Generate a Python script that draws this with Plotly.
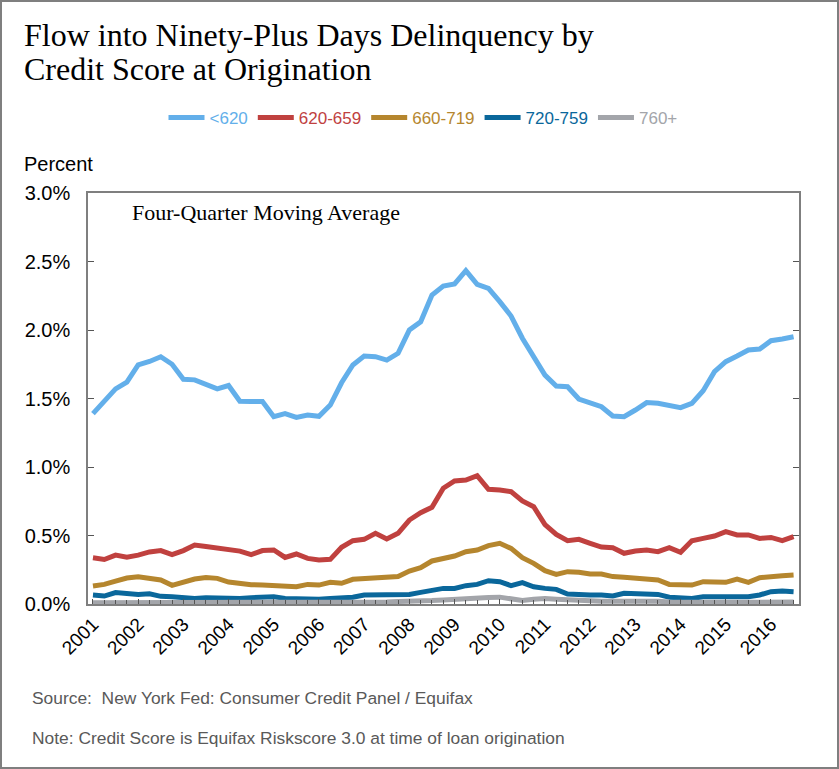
import plotly.graph_objects as go

# quarterly, 2001Q1 .. 2016Q3, four-quarter moving average (percent)
quarters = [2001 + i / 4 for i in range(63)]

below_620 = [1.39, 1.48, 1.57, 1.62, 1.745, 1.77, 1.805, 1.75, 1.64, 1.636, 1.607, 1.57, 1.595, 1.48, 1.478, 1.478,
             1.367, 1.39, 1.362, 1.38, 1.37, 1.452, 1.615, 1.745, 1.81, 1.805, 1.78, 1.83, 2.0, 2.06, 2.255, 2.32,
             2.336, 2.433, 2.333, 2.304, 2.207, 2.102, 1.94, 1.805, 1.671, 1.591, 1.586, 1.496, 1.464, 1.44, 1.372, 1.367,
             1.416, 1.47, 1.465, 1.448, 1.433, 1.465, 1.557, 1.696, 1.769, 1.81, 1.854, 1.861, 1.922, 1.934, 1.951]
s620_659 = [0.337, 0.325, 0.357, 0.342, 0.357, 0.38, 0.39, 0.36, 0.39, 0.43, 0.42, 0.41, 0.393, 0.386, 0.36, 0.39,
            0.394, 0.34, 0.365, 0.333, 0.321, 0.326, 0.414, 0.462, 0.472, 0.516, 0.474, 0.516, 0.613, 0.667, 0.706, 0.845,
            0.898, 0.905, 0.937, 0.837, 0.832, 0.82, 0.752, 0.71, 0.58, 0.508, 0.462, 0.472, 0.443, 0.416, 0.411, 0.37,
            0.387, 0.394, 0.382, 0.411, 0.377, 0.462, 0.479, 0.496, 0.528, 0.504, 0.504, 0.479, 0.486, 0.462, 0.491]
s660_719 = [0.131, 0.143, 0.167, 0.19, 0.199, 0.19, 0.175, 0.136, 0.163, 0.182, 0.194, 0.187, 0.16, 0.146, 0.141, 0.138,
            0.134, 0.126, 0.126, 0.143, 0.138, 0.158, 0.151, 0.18, 0.187, 0.187, 0.195, 0.2, 0.241, 0.265, 0.314, 0.333,
            0.35, 0.382, 0.394, 0.426, 0.443, 0.406, 0.338, 0.297, 0.243, 0.216, 0.236, 0.231, 0.219, 0.219, 0.2, 0.195,
            0.187, 0.175, 0.175, 0.143, 0.143, 0.138, 0.163, 0.163, 0.158, 0.182, 0.158, 0.192, 0.204, 0.207, 0.212]
s720_759 = [0.065, 0.058, 0.083, 0.075, 0.07, 0.075, 0.056, 0.053, 0.046, 0.041, 0.046, 0.044, 0.039, 0.041, 0.046, 0.053,
            0.053, 0.041, 0.036, 0.034, 0.034, 0.041, 0.041, 0.049, 0.066, 0.066, 0.066, 0.073, 0.07, 0.085, 0.097, 0.114,
            0.114, 0.134, 0.143, 0.17, 0.163, 0.134, 0.156, 0.126, 0.114, 0.107, 0.073, 0.066, 0.066, 0.066, 0.058, 0.078,
            0.078, 0.073, 0.07, 0.049, 0.046, 0.041, 0.053, 0.053, 0.049, 0.049, 0.053, 0.066, 0.09, 0.095, 0.09]
s760_plus = [0.01, 0.01, 0.012, 0.012, 0.012, 0.012, 0.01, 0.008, 0.008, 0.008, 0.008, 0.008, 0.008, 0.008, 0.008, 0.01,
             0.01, 0.008, 0.008, 0.008, 0.008, 0.01, 0.01, 0.012, 0.015, 0.015, 0.015, 0.018, 0.018, 0.022, 0.025, 0.03,
             0.035, 0.045, 0.048, 0.048, 0.05, 0.035, 0.025, 0.035, 0.04, 0.035, 0.03, 0.025, 0.02, 0.02, 0.02, 0.02,
             0.025, 0.025, 0.02, 0.015, 0.012, 0.012, 0.012, 0.012, 0.012, 0.012, 0.012, 0.015, 0.015, 0.015, 0.015]

series_names = ["&lt;620", "620-659", "660-719", "720-759", "760+"]
series_values = [below_620, s620_659, s660_719, s720_759, s760_plus]
colors = ["#63AFEA", "#C0413F", "#B5862E", "#0A679B", "#A3A5AA"]

year_ticks = list(range(2001, 2017))
year_labels = [str(y) for y in year_ticks]
y_ticks = [0, 0.5, 1.0, 1.5, 2.0, 2.5, 3.0]
y_labels = ["%.1f%%" % v for v in y_ticks]

W, H = 839, 769
L, R, T, B = 88, 799, 193, 604  # plot area in pixels


def px(x):
    return (x - L) / (R - L)


def py(y):
    return (B - y) / (B - T)


fig = go.Figure()
for name, vals, col in zip(series_names, series_values, colors):
    fig.add_trace(go.Scatter(x=quarters, y=vals, mode="lines",
                             name="<span style='color:%s'>%s</span>" % (col, name),
                             line=dict(color=col, width=5)))

fig.update_layout(
    width=W, height=H,
    margin=dict(l=L, r=W - R, t=T, b=H - B),
    paper_bgcolor="white", plot_bgcolor="white",
    font=dict(family="Liberation Sans, Arial", color="black"),
    showlegend=True,
    legend=dict(orientation="h", x=px(423), y=py(118), xanchor="center", yanchor="middle",
                font=dict(size=17), itemwidth=36, tracegroupgap=0),
    hovermode=False,
)

fig.update_xaxes(range=[2000.89, 2016.62], tickmode="array", tickvals=year_ticks, ticktext=year_labels,
                 tickangle=-45, tickfont=dict(size=19), ticks="inside", ticklen=5, tickcolor="#555",
                 minor=dict(dtick=0.25, tick0=2001, ticks="inside", ticklen=4, tickcolor="#555"),
                 showgrid=False, zeroline=False, showline=True, linecolor="#7f7f7f", linewidth=1.5,
                 mirror=True)
fig.update_yaxes(range=[0, 3.0], tickmode="array", tickvals=y_ticks, ticktext=y_labels,
                 tickfont=dict(size=20), ticks="inside", ticklen=6, tickcolor="#555",
                 showgrid=False, zeroline=False, showline=True, linecolor="#7f7f7f", linewidth=1.5,
                 mirror="ticks", ticklabelstandoff=12)

# outer frame
fig.add_shape(type="rect", xref="paper", yref="paper", x0=px(1), x1=px(838), y0=py(768), y1=py(1),
              line=dict(color="#7f7f7f", width=2), layer="below")

serif = "Liberation Serif, Times New Roman, serif"
sans = "Liberation Sans, Arial"
notes = [
    (22, 55, "Flow into Ninety-Plus Days Delinquency by", 32, serif, "black"),
    (22, 89, "Credit Score at Origination", 32, serif, "black"),
    (22, 177, "Percent", 20, sans, "black"),
    (130, 227, "Four-Quarter Moving Average", 22, serif, "black"),
    (30, 710, "Source:  New York Fed: Consumer Credit Panel / Equifax", 17.4, sans, "#595959"),
    (30, 750, "Note: Credit Score is Equifax Riskscore 3.0 at time of loan origination", 17.4, sans, "#595959"),
]
for x, y, text, size, fam, col in notes:
    fig.add_annotation(xref="paper", yref="paper", x=px(x), y=py(y), text=text, showarrow=False,
                       xanchor="left", yanchor="bottom", font=dict(size=size, family=fam, color=col))

fig.write_html("out.html", config={"displayModeBar": False},
               post_script="document.body.style.margin='0';")
